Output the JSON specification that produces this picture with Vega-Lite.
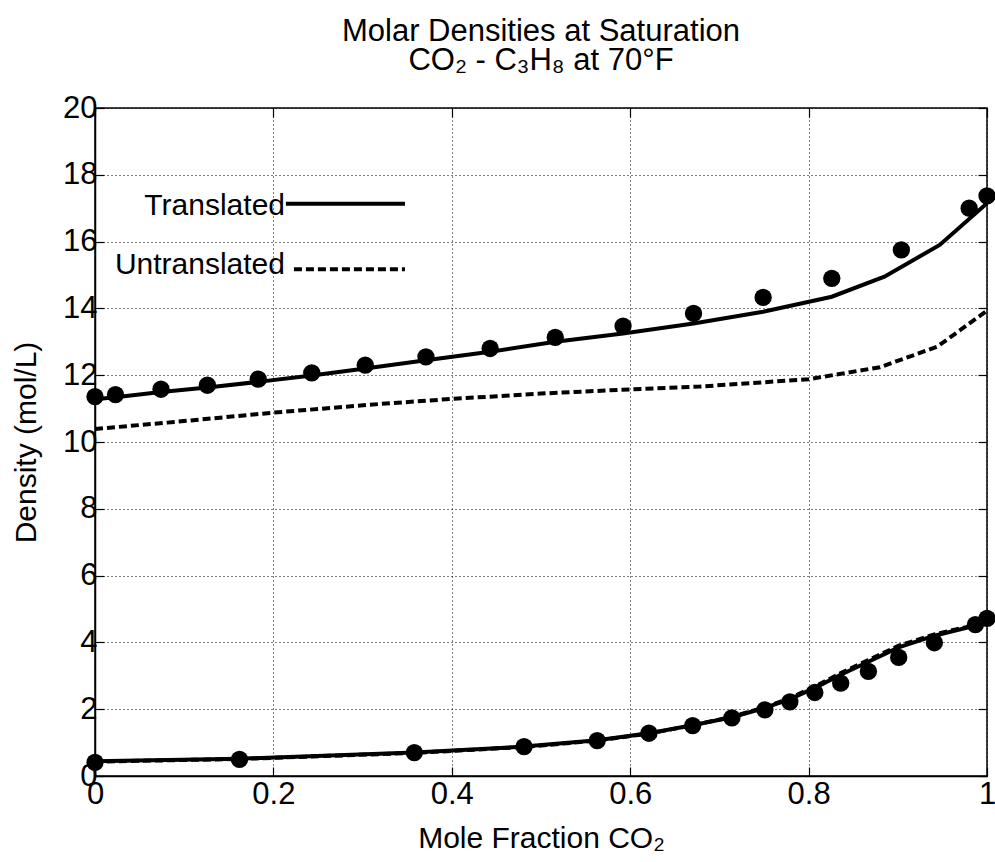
{
  "$schema": "https://vega.github.io/schema/vega-lite/v6.json",
  "autosize": "none",
  "width": 892,
  "height": 668,
  "padding": {"left": 95, "top": 108, "right": 8, "bottom": 86},
  "background": "white",
  "title": {
    "text": ["Molar Densities at Saturation", "CO₂ - C₃H₈ at 70°F"],
    "fontSize": 31,
    "fontWeight": "normal",
    "font": "Liberation Sans",
    "lineHeight": 29,
    "frame": "group",
    "anchor": "middle",
    "offset": 15,
    "color": "black"
  },
  "config": {
    "font": "Liberation Sans",
    "view": {"stroke": "black", "strokeWidth": 1.5}
  },
  "datasets": {
    "curves": [
      {"series": "Translated", "branch": "liquid", "x": 0, "y": 11.28},
      {"series": "Translated", "branch": "liquid", "x": 0.023, "y": 11.34},
      {"series": "Translated", "branch": "liquid", "x": 0.074, "y": 11.5},
      {"series": "Translated", "branch": "liquid", "x": 0.126, "y": 11.63},
      {"series": "Translated", "branch": "liquid", "x": 0.183, "y": 11.8},
      {"series": "Translated", "branch": "liquid", "x": 0.243, "y": 11.99},
      {"series": "Translated", "branch": "liquid", "x": 0.303, "y": 12.2},
      {"series": "Translated", "branch": "liquid", "x": 0.371, "y": 12.45},
      {"series": "Translated", "branch": "liquid", "x": 0.443, "y": 12.7},
      {"series": "Translated", "branch": "liquid", "x": 0.516, "y": 13.0},
      {"series": "Translated", "branch": "liquid", "x": 0.592, "y": 13.25},
      {"series": "Translated", "branch": "liquid", "x": 0.671, "y": 13.55},
      {"series": "Translated", "branch": "liquid", "x": 0.749, "y": 13.9},
      {"series": "Translated", "branch": "liquid", "x": 0.826, "y": 14.35},
      {"series": "Translated", "branch": "liquid", "x": 0.885, "y": 14.95},
      {"series": "Translated", "branch": "liquid", "x": 0.947, "y": 15.9},
      {"series": "Translated", "branch": "liquid", "x": 1.0, "y": 17.15},
      {"series": "Untranslated", "branch": "liquid", "x": 0, "y": 10.39},
      {"series": "Untranslated", "branch": "liquid", "x": 0.081, "y": 10.58},
      {"series": "Untranslated", "branch": "liquid", "x": 0.2, "y": 10.88},
      {"series": "Untranslated", "branch": "liquid", "x": 0.32, "y": 11.14},
      {"series": "Untranslated", "branch": "liquid", "x": 0.4, "y": 11.29},
      {"series": "Untranslated", "branch": "liquid", "x": 0.5, "y": 11.45},
      {"series": "Untranslated", "branch": "liquid", "x": 0.587, "y": 11.56},
      {"series": "Untranslated", "branch": "liquid", "x": 0.678, "y": 11.66},
      {"series": "Untranslated", "branch": "liquid", "x": 0.8, "y": 11.88},
      {"series": "Untranslated", "branch": "liquid", "x": 0.88, "y": 12.24},
      {"series": "Untranslated", "branch": "liquid", "x": 0.944, "y": 12.85},
      {"series": "Untranslated", "branch": "liquid", "x": 1.0, "y": 13.93},
      {"series": "Translated", "branch": "vapor", "x": 0, "y": 0.44},
      {"series": "Translated", "branch": "vapor", "x": 0.162, "y": 0.52},
      {"series": "Translated", "branch": "vapor", "x": 0.358, "y": 0.7},
      {"series": "Translated", "branch": "vapor", "x": 0.481, "y": 0.88},
      {"series": "Translated", "branch": "vapor", "x": 0.563, "y": 1.07},
      {"series": "Translated", "branch": "vapor", "x": 0.621, "y": 1.28},
      {"series": "Translated", "branch": "vapor", "x": 0.67, "y": 1.52},
      {"series": "Translated", "branch": "vapor", "x": 0.714, "y": 1.76},
      {"series": "Translated", "branch": "vapor", "x": 0.751, "y": 2.04},
      {"series": "Translated", "branch": "vapor", "x": 0.779, "y": 2.3},
      {"series": "Translated", "branch": "vapor", "x": 0.807, "y": 2.64},
      {"series": "Translated", "branch": "vapor", "x": 0.836, "y": 3.03},
      {"series": "Translated", "branch": "vapor", "x": 0.867, "y": 3.42},
      {"series": "Translated", "branch": "vapor", "x": 0.901, "y": 3.85},
      {"series": "Translated", "branch": "vapor", "x": 0.941, "y": 4.2},
      {"series": "Translated", "branch": "vapor", "x": 0.987, "y": 4.5},
      {"series": "Translated", "branch": "vapor", "x": 1.0, "y": 4.62},
      {"series": "Untranslated", "branch": "vapor", "x": 0, "y": 0.43},
      {"series": "Untranslated", "branch": "vapor", "x": 0.162, "y": 0.51},
      {"series": "Untranslated", "branch": "vapor", "x": 0.358, "y": 0.69},
      {"series": "Untranslated", "branch": "vapor", "x": 0.481, "y": 0.87},
      {"series": "Untranslated", "branch": "vapor", "x": 0.563, "y": 1.06},
      {"series": "Untranslated", "branch": "vapor", "x": 0.621, "y": 1.27},
      {"series": "Untranslated", "branch": "vapor", "x": 0.67, "y": 1.52},
      {"series": "Untranslated", "branch": "vapor", "x": 0.714, "y": 1.77},
      {"series": "Untranslated", "branch": "vapor", "x": 0.751, "y": 2.06},
      {"series": "Untranslated", "branch": "vapor", "x": 0.779, "y": 2.33},
      {"series": "Untranslated", "branch": "vapor", "x": 0.807, "y": 2.68},
      {"series": "Untranslated", "branch": "vapor", "x": 0.836, "y": 3.08},
      {"series": "Untranslated", "branch": "vapor", "x": 0.867, "y": 3.47},
      {"series": "Untranslated", "branch": "vapor", "x": 0.901, "y": 3.9},
      {"series": "Untranslated", "branch": "vapor", "x": 0.941, "y": 4.24},
      {"series": "Untranslated", "branch": "vapor", "x": 0.987, "y": 4.52},
      {"series": "Untranslated", "branch": "vapor", "x": 1.0, "y": 4.63}
    ],
    "exp": [
      {"branch": "liquid", "x": 0, "y": 11.36},
      {"branch": "liquid", "x": 0.023, "y": 11.42},
      {"branch": "liquid", "x": 0.074, "y": 11.58},
      {"branch": "liquid", "x": 0.126, "y": 11.7},
      {"branch": "liquid", "x": 0.183, "y": 11.88},
      {"branch": "liquid", "x": 0.243, "y": 12.07},
      {"branch": "liquid", "x": 0.303, "y": 12.3},
      {"branch": "liquid", "x": 0.371, "y": 12.55},
      {"branch": "liquid", "x": 0.443, "y": 12.8},
      {"branch": "liquid", "x": 0.516, "y": 13.13},
      {"branch": "liquid", "x": 0.592, "y": 13.47},
      {"branch": "liquid", "x": 0.671, "y": 13.85},
      {"branch": "liquid", "x": 0.749, "y": 14.33},
      {"branch": "liquid", "x": 0.826, "y": 14.9},
      {"branch": "liquid", "x": 0.904, "y": 15.75},
      {"branch": "liquid", "x": 0.98, "y": 17.0},
      {"branch": "liquid", "x": 1.0, "y": 17.37},
      {"branch": "vapor", "x": 0, "y": 0.41},
      {"branch": "vapor", "x": 0.162, "y": 0.5},
      {"branch": "vapor", "x": 0.358, "y": 0.7},
      {"branch": "vapor", "x": 0.481, "y": 0.88},
      {"branch": "vapor", "x": 0.563, "y": 1.06},
      {"branch": "vapor", "x": 0.621, "y": 1.28},
      {"branch": "vapor", "x": 0.67, "y": 1.51},
      {"branch": "vapor", "x": 0.714, "y": 1.74},
      {"branch": "vapor", "x": 0.751, "y": 1.98},
      {"branch": "vapor", "x": 0.779, "y": 2.22},
      {"branch": "vapor", "x": 0.807, "y": 2.5},
      {"branch": "vapor", "x": 0.836, "y": 2.78},
      {"branch": "vapor", "x": 0.867, "y": 3.13},
      {"branch": "vapor", "x": 0.901, "y": 3.55},
      {"branch": "vapor", "x": 0.941, "y": 3.99},
      {"branch": "vapor", "x": 0.987, "y": 4.53},
      {"branch": "vapor", "x": 1.0, "y": 4.72}
    ],
    "key": [
      {"label": "Translated", "tx": 0.213, "ty": 16.8, "lx": 0.214, "lx2": 0.3475, "ly": 17.13},
      {"label": "Untranslated", "tx": 0.213, "ty": 15.03, "lx": 0.223, "lx2": 0.3475, "ly": 15.17}
    ]
  },
  "resolve": {"axis": {"x": "independent", "y": "independent"}},
  "layer": [
    {
      "data": {"name": "curves"},
      "transform": [{"filter": "datum.series === 'Translated'"}],
      "mark": {"type": "line", "color": "black", "strokeWidth": 4},
      "encoding": {
        "x": {
          "field": "x", "type": "quantitative",
          "scale": {"domain": [0, 1], "nice": false, "zero": false},
          "axis": {
            "values": [0, 0.2, 0.4, 0.6, 0.8, 1],
            "format": "~g",
            "labelFlush": false,
            "grid": true, "gridColor": "black", "gridDash": [1, 3], "gridWidth": 1, "gridOpacity": 1,
            "domainColor": "black", "domainWidth": 1.5,
            "tickColor": "black", "tickSize": -9, "tickWidth": 1.2,
            "labelFontSize": 31, "labelColor": "black", "labelBaseline": "alphabetic", "labelPadding": 36,
            "title": "Mole Fraction CO₂", "titleFontSize": 30, "titleFontWeight": "normal", "titleColor": "black",
            "titleBaseline": "alphabetic", "titleY": 71
          }
        },
        "y": {
          "field": "y", "type": "quantitative",
          "scale": {"domain": [0, 20], "nice": false, "zero": false},
          "axis": {
            "values": [0, 2, 4, 6, 8, 10, 12, 14, 16, 18, 20],
            "grid": true, "gridColor": "black", "gridDash": [1, 3], "gridWidth": 1, "gridOpacity": 1,
            "domainColor": "black", "domainWidth": 1.5,
            "tickColor": "black", "tickSize": -9, "tickWidth": 1.2,
            "labelFontSize": 31, "labelColor": "black", "labelPadding": 7,
            "title": "Density (mol/L)", "titleFontSize": 30, "titleFontWeight": "normal", "titleColor": "black",
            "titleBaseline": "alphabetic", "titleX": -60
          }
        },
        "detail": {"field": "branch"}
      }
    },
    {
      "data": {"name": "curves"},
      "transform": [{"filter": "datum.series === 'Untranslated'"}],
      "mark": {"type": "line", "color": "black", "strokeWidth": 4, "strokeDash": [8, 4]},
      "encoding": {
        "x": {"field": "x", "type": "quantitative", "axis": null},
        "y": {"field": "y", "type": "quantitative", "axis": null},
        "detail": {"field": "branch"}
      }
    },
    {
      "data": {"name": "exp"},
      "mark": {"type": "point", "shape": "circle", "filled": true, "color": "black", "opacity": 1, "size": 300},
      "encoding": {
        "x": {
          "field": "x", "type": "quantitative",
          "axis": {"orient": "top", "values": [0, 0.2, 0.4, 0.6, 0.8, 1], "labels": false, "grid": false, "domain": false,
                   "tickColor": "black", "tickSize": -9, "tickWidth": 1.2, "title": null}
        },
        "y": {
          "field": "y", "type": "quantitative",
          "axis": {"orient": "right", "values": [0, 2, 4, 6, 8, 10, 12, 14, 16, 18, 20], "labels": false, "grid": false, "domain": false,
                   "tickColor": "black", "tickSize": -9, "tickWidth": 1.2, "title": null}
        }
      }
    },
    {
      "data": {"name": "key"},
      "mark": {"type": "text", "align": "right", "baseline": "alphabetic", "fontSize": 30, "color": "black", "font": "Liberation Sans"},
      "encoding": {
        "x": {"field": "tx", "type": "quantitative", "axis": null},
        "y": {"field": "ty", "type": "quantitative", "axis": null},
        "text": {"field": "label"}
      }
    },
    {
      "data": {"name": "key"},
      "transform": [{"filter": "datum.label === 'Translated'"}],
      "mark": {"type": "rule", "color": "black", "strokeWidth": 4},
      "encoding": {
        "x": {"field": "lx", "type": "quantitative", "axis": null},
        "x2": {"field": "lx2"},
        "y": {"field": "ly", "type": "quantitative", "axis": null}
      }
    },
    {
      "data": {"name": "key"},
      "transform": [{"filter": "datum.label === 'Untranslated'"}],
      "mark": {"type": "rule", "color": "black", "strokeWidth": 4, "strokeDash": [8, 4]},
      "encoding": {
        "x": {"field": "lx", "type": "quantitative", "axis": null},
        "x2": {"field": "lx2"},
        "y": {"field": "ly", "type": "quantitative", "axis": null}
      }
    }
  ]
}
